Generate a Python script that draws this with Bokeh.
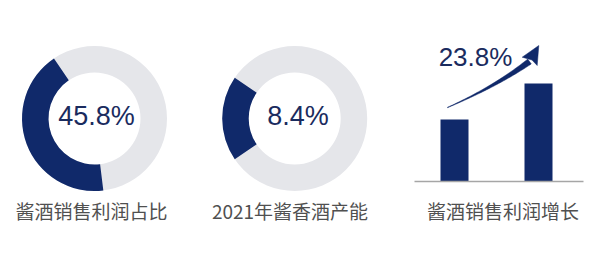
import numpy as np
from bokeh.plotting import figure
from bokeh.layouts import row
from bokeh.models import Range1d
from bokeh.embed import file_html
from bokeh.resources import INLINE
from bokeh.core.properties import value

# ---------------- data ----------------
ring_labels = ["45.8%", "8.4%"]
ring_share = [42.5, 19.0]          # dark share of each ring (%), as drawn
ring_titles = ["酱酒销售利润占比", "2021年酱香酒产能"]
bar_cats = ["基期", "本期"]
bar_values = [100, 158]            # relative profit level (index)
growth_label = "23.8%"
bar_title = "酱酒销售利润增长"

# ---------------- styles ----------------
NAVY = "#10296a"
RING = "#e5e6ea"
TEXT_NAVY = "#1a2b5e"
GRAY_TEXT = "#505050"
BASE = "#a6a6a6"
NUM_FONT = value("Liberation Sans")
CJK_FONT = value("Noto Sans CJK SC")
W, H = 200, 270
NUM_DY = 11      # rendering correction for numeric labels (px)
CJK_DY = 2.5     # rendering correction for CJK labels (px)


def base_fig(**kw):
    p = figure(width=W, height=H, toolbar_location=None, output_backend="svg",
               min_border=0, x_axis_location=None, y_axis_location=None, **kw)
    p.grid.visible = False
    p.outline_line_color = None
    p.background_fill_color = "white"
    p.border_fill_color = "white"
    return p


def donut(share, label, title, cx, mid_deg, label_x, title_x):
    p = base_fig(x_range=Range1d(0, W), y_range=Range1d(0, H))
    cy = H - 118
    r_in, r_out = 46, 72.5
    p.annulus(x=[cx], y=[cy], inner_radius=r_in, outer_radius=r_out,
              fill_color=RING, line_color=None)
    span = np.deg2rad(share / 100.0 * 360.0)
    mid = np.deg2rad(mid_deg)
    p.annular_wedge(x=[cx], y=[cy], inner_radius=r_in, outer_radius=r_out,
                    start_angle=mid - span / 2, end_angle=mid + span / 2,
                    fill_color=NAVY, line_color=None)
    p.text(x=[label_x], y=[H - 126 + NUM_DY], text=[label], text_font=NUM_FONT,
           text_font_size="27px", text_align="center", text_baseline="alphabetic",
           text_color=TEXT_NAVY)
    p.text(x=[title_x], y=[H - 212.5 + CJK_DY], text=[title], text_font=CJK_FONT,
           text_font_size="19px", text_align="center", text_baseline="middle",
           text_color=GRAY_TEXT)
    return p


p1 = donut(ring_share[0], ring_labels[0], ring_titles[0], 94, 200.5, 96, 91)
p2 = donut(ring_share[1], ring_labels[1], ring_titles[1], 94.2, 180, 97.5, 89.5)

# ---------------- bar panel ----------------
unit_px = 84.0          # pixels between bar centres
first_px = 54.0         # first bar centre within panel
base_py = 181.0         # baseline (pixels from top)
val_px = 62.0 / bar_values[0]
x0 = -first_px / unit_px
y0 = -(H - base_py) / val_px
p3 = base_fig(x_range=Range1d(x0, x0 + W / unit_px),
              y_range=Range1d(y0, y0 + H / val_px))
p3.extra_x_ranges = {"px": Range1d(0, W)}
p3.extra_y_ranges = {"py": Range1d(H, 0)}

xs = np.arange(len(bar_cats))
p3.vbar(x=xs, top=bar_values, bottom=0, width=28 / unit_px,
        fill_color=NAVY, line_color=None)
p3.segment(x0=[14], x1=[183], y0=[0], y1=[0], x_range_name="px",
           line_color=BASE, line_width=1.5)

# curved tapered arrow (pixel coordinates of the panel)
P0 = np.array([47.0, 107.0])
P1 = np.array([95.0, 86.0])
P2 = np.array([129.0, 61.0])
t = np.linspace(0, 1, 50)[:, None]
B = (1 - t) ** 2 * P0 + 2 * (1 - t) * t * P1 + t ** 2 * P2
D = 2 * (1 - t) * (P1 - P0) + 2 * t * (P2 - P1)
D = D / np.linalg.norm(D, axis=1, keepdims=True)
N = np.column_stack([-D[:, 1], D[:, 0]])
wd = (0.4 + 5.6 * t[:, 0] ** 1.3) / 2
left = B + N * wd[:, None]
right = B - N * wd[:, None]
poly = np.vstack([left, right[::-1]])
p3.patch(x=poly[:, 0], y=poly[:, 1], x_range_name="px", y_range_name="py",
         fill_color=NAVY, line_color=NAVY, line_width=0.5)
tip = np.array([138.3, 45.0])
c1 = np.array([121.7, 56.7])
c2 = np.array([136.7, 65.0])
notch = np.array([131.5, 59.5])
head = np.array([tip, c1, notch, c2])
p3.patch(x=head[:, 0], y=head[:, 1], x_range_name="px", y_range_name="py",
         fill_color=NAVY, line_color=NAVY, line_width=0.5)

p3.text(x=[75], y=[67.7 - NUM_DY], text=[growth_label], x_range_name="px", y_range_name="py",
        text_font=NUM_FONT, text_font_size="26px", text_align="center",
        text_baseline="alphabetic", text_color=TEXT_NAVY)
p3.text(x=[102.5], y=[212.5 - CJK_DY], text=[bar_title], x_range_name="px", y_range_name="py",
        text_font=CJK_FONT, text_font_size="19px", text_align="center",
        text_baseline="middle", text_color=GRAY_TEXT)

layout = row(p1, p2, p3)
open("out.html", "w").write(file_html(layout, INLINE))
